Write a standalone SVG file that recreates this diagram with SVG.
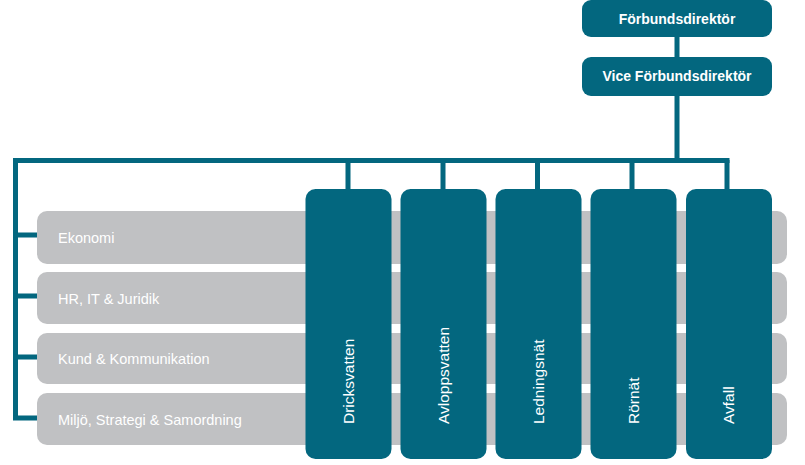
<svg xmlns="http://www.w3.org/2000/svg" width="805" height="465" viewBox="0 0 805 465">
<style>
.blue{fill:#03677f}
.gray{fill:#c0c1c3}
.conn{fill:none;stroke:#03677f;stroke-width:5;stroke-linecap:butt;stroke-linejoin:miter}
.t{font-family:"Liberation Sans",Arial,sans-serif;fill:#ffffff}
.top{font-size:14px;font-weight:bold;text-anchor:middle}
.row{font-size:14.5px}
.col{font-size:15.5px}
</style>
<rect width="805" height="465" fill="#ffffff"/>
<g id="connectors">
<path class="conn" d="M677,36 V57 M677,96 V160.5"/>
<path class="conn" d="M15.5,420 V160.5 H729.5"/>
<path class="conn" d="M13,235 H38 M13,296 H38 M13,357 H38 M13,418 H38"/>
<path class="conn" d="M348,160 V190 M443,160 V190 M537.5,160 V190 M632,160 V190 M727,160 V190"/>
</g>
<g id="n-ekonomi"><rect class="gray" x="37" y="211" width="750" height="53" rx="10"/><text class="t row" x="58" y="243">Ekonomi</text></g>
<g id="n-hr"><rect class="gray" x="37" y="272" width="750" height="52" rx="10"/><text class="t row" x="58" y="304">HR, IT &amp; Juridik</text></g>
<g id="n-kund"><rect class="gray" x="37" y="333" width="750" height="51" rx="10"/><text class="t row" x="58" y="364">Kund &amp; Kommunikation</text></g>
<g id="n-miljo"><rect class="gray" x="37" y="393" width="750" height="52" rx="10"/><text class="t row" x="58" y="425">Miljö, Strategi &amp; Samordning</text></g>
<g id="n-forbundsdirektor"><rect class="blue" x="582" y="0" width="190" height="37" rx="9"/><text class="t top" x="677" y="23.5">Förbundsdirektör</text></g>
<g id="n-vice"><rect class="blue" x="582" y="57" width="190" height="39" rx="9"/><text class="t top" x="677" y="81">Vice Förbundsdirektör</text></g>
<g id="n-dricksvatten"><rect class="blue" x="305.5" y="189" width="86" height="270" rx="10"/><text class="t col" transform="translate(354,424) rotate(-90)">Dricksvatten</text></g>
<g id="n-avloppsvatten"><rect class="blue" x="400.5" y="189" width="86" height="270" rx="10"/><text class="t col" transform="translate(448.5,424) rotate(-90)">Avloppsvatten</text></g>
<g id="n-ledningsnat"><rect class="blue" x="495.5" y="189" width="86" height="270" rx="10"/><text class="t col" transform="translate(543.5,424) rotate(-90)">Ledningsnät</text></g>
<g id="n-rornat"><rect class="blue" x="590.5" y="189" width="86" height="270" rx="10"/><text class="t col" transform="translate(638.5,424) rotate(-90)">Rörnät</text></g>
<g id="n-avfall"><rect class="blue" x="686" y="189" width="86" height="270" rx="10"/><text class="t col" transform="translate(734,424) rotate(-90)">Avfall</text></g>
</svg>
